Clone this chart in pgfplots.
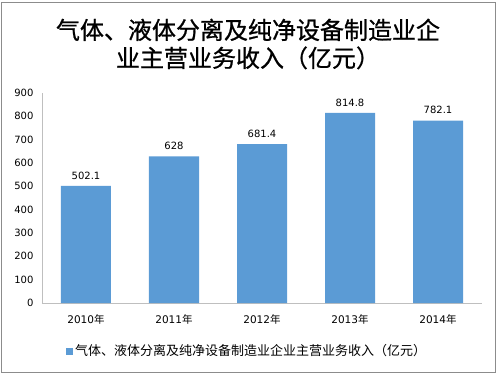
\documentclass[border=0pt]{standalone}
\usepackage{pgfplots}
\pgfplotsset{compat=1.18}
\usepackage{fontspec}
\setmainfont{DejaVu Sans}
\newfontfamily\cjk{Noto Sans CJK SC}
\newfontfamily\cjkt[FakeBold=0.8]{Noto Sans CJK SC}
\definecolor{barblue}{HTML}{5B9BD5}
\definecolor{axgray}{HTML}{BFBFBF}
\begin{document}
\begin{tikzpicture}
\useasboundingbox (-42pt,-73pt) rectangle (455pt,303pt);
\draw[color=black!45, line width=0.8pt] (-40.5pt,-69pt) rectangle (453.5pt,301pt);
\begin{axis}[
  at={(0pt,0pt)}, anchor=south west,
  scale only axis, width=440pt, height=210pt,
  xmin=-0.5, xmax=4.5, ymin=0, ymax=900,
  ytick={0,100,...,900},
  xtick={0,1,2,3,4},
  xticklabels={2010\cjk{年},2011\cjk{年},2012\cjk{年},2013\cjk{年},2014\cjk{年}},
  axis x line=bottom, axis y line=left,
  axis line style={draw=axgray, line width=0.8pt, -},
  major tick length=0pt,
  /pgf/number format/assume math mode=true,
  yticklabel style={font=\fontsize{10}{12}\selectfont, xshift=-5pt},
  xticklabel style={font=\fontsize{10.5}{12}\selectfont, yshift=-8pt},
  ybar, bar width=50pt,
  nodes near coords,
  nodes near coords style={font=\fontsize{10}{12}\selectfont, yshift=3pt},
  legend style={at={(rel axis cs:0.466,0)}, anchor=center, yshift=-48pt, draw=none,
    font=\cjk\fontsize{13}{15}\selectfont, inner sep=0pt},
  legend image code/.code={\fill[barblue] (0pt,-3.5pt) rectangle (7pt,3.5pt);},
]
\addplot[fill=barblue, draw=none] coordinates {(0,502.1) (1,628) (2,681.4) (3,814.8) (4,782.1)};
\addlegendentry{气体、液体分离及纯净设备制造业企业主营业务收入（亿元）}
\end{axis}
\node[align=center, font=\cjkt\fontsize{24}{28}\selectfont] at (206pt,259pt) {气体、液体分离及纯净设备制造业企\\业主营业务收入（亿元）};
\end{tikzpicture}
\end{document}
